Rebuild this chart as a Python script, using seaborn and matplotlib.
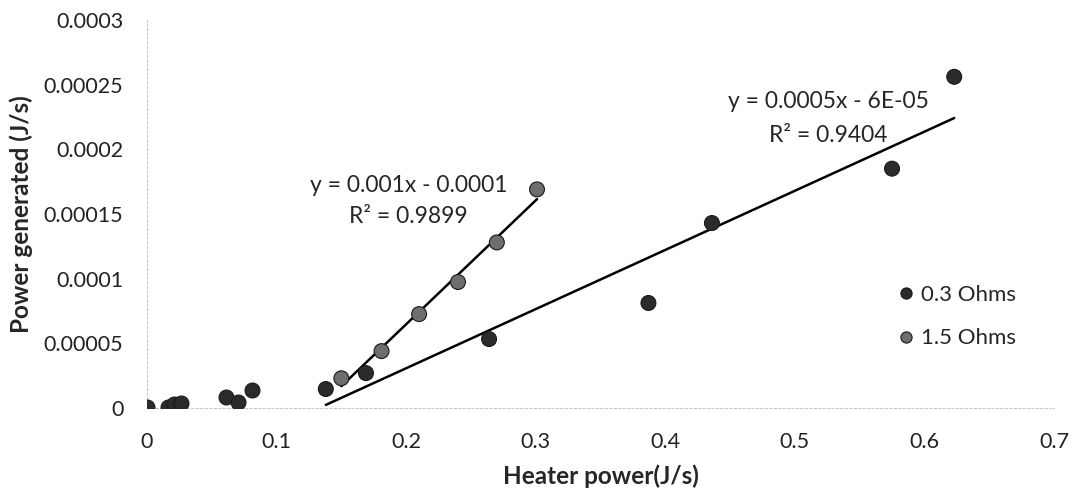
import numpy as np
import pandas as pd
import matplotlib
matplotlib.use("Agg")
import matplotlib.pyplot as plt
import seaborn as sns

# Measured heater power (J/s) and generated power (J/s)
heater_low = [0.0, 0.016, 0.021, 0.026, 0.061, 0.070, 0.081]
gen_low = [0.0000005, 0.0000010, 0.0000035, 0.0000040, 0.0000085, 0.0000046, 0.0000139]

heater_03 = [0.138, 0.169, 0.264, 0.387, 0.436, 0.575, 0.623]
gen_03 = [0.0000147, 0.0000270, 0.0000533, 0.0000812, 0.0001430, 0.0001850, 0.0002560]

heater_15 = [0.150, 0.181, 0.210, 0.240, 0.270, 0.301]
gen_15 = [0.0000230, 0.0000440, 0.0000726, 0.0000974, 0.0001280, 0.0001690]

series_names = ["0.3 Ohms", "1.5 Ohms"]
eq_03 = ["y = 0.0005x - 6E-05", "R² = 0.9404"]
eq_15 = ["y = 0.001x - 0.0001", "R² = 0.9899"]

x_ticks = [0, 0.1, 0.2, 0.3, 0.4, 0.5, 0.6, 0.7]
y_ticks = [0, 0.00005, 0.0001, 0.00015, 0.0002, 0.00025, 0.0003]
y_tick_labels = ["0", "0.00005", "0.0001", "0.00015", "0.0002", "0.00025", "0.0003"]

sns.set_theme(style="white")
plt.rcParams["font.family"] = ["Lato", "DejaVu Sans"]

fig = plt.figure(figsize=(10.81, 4.97), dpi=100)
ax = fig.add_axes([0.136, 0.179, 0.839, 0.781])

dark = "#2b2b2b"
grey = "#6e6e6e"

df = pd.DataFrame({
    "heater": heater_03 + heater_15,
    "gen": gen_03 + gen_15,
    "series": [series_names[0]] * len(heater_03) + [series_names[1]] * len(heater_15),
})
sns.scatterplot(data=df, x="heater", y="gen", hue="series",
                palette={series_names[0]: dark, series_names[1]: grey},
                s=115, edgecolor="#1a1a1a", linewidth=0.8, ax=ax, zorder=3)
sns.scatterplot(x=heater_low, y=gen_low, color=dark, s=115,
                edgecolor="#1a1a1a", linewidth=0.8, ax=ax, zorder=3, legend=False)

# Linear trend lines over each series' range
for hx, gy in [(heater_03, gen_03), (heater_15, gen_15)]:
    slope, intercept = np.polyfit(hx, gy, 1)
    xs = np.array([min(hx), max(hx)])
    ax.plot(xs, slope * xs + intercept, color="black", lw=1.8, zorder=2)

fs_eq = 16.5
ax.text(0.202, 0.000172, eq_15[0], ha="center", va="center", fontsize=fs_eq)
ax.text(0.202, 0.000148, eq_15[1], ha="center", va="center", fontsize=fs_eq)
ax.text(0.526, 0.000237, eq_03[0], ha="center", va="center", fontsize=fs_eq)
ax.text(0.526, 0.000211, eq_03[1], ha="center", va="center", fontsize=fs_eq)

ax.set_xlim(0, 0.7)
ax.set_ylim(0, 0.0003)
ax.set_xticks(x_ticks)
ax.set_xticklabels([f"{t:g}" for t in x_ticks])
ax.set_yticks(y_ticks)
ax.set_yticklabels(y_tick_labels)
ax.tick_params(axis="y", labelsize=15.5, colors="#222222", length=0, pad=17)
ax.tick_params(axis="x", labelsize=15.5, colors="#222222", length=0, pad=17)

for side in ["top", "right"]:
    ax.spines[side].set_visible(False)
for side in ["left", "bottom"]:
    ax.spines[side].set_color("#c8c8c8")
    ax.spines[side].set_linestyle((0, (2, 2)))
    ax.spines[side].set_linewidth(0.8)

ax.set_xlabel("Heater power(J/s)", fontsize=17.5, fontweight="bold", labelpad=9)
ax.set_ylabel("Power generated (J/s)", fontsize=17.5, fontweight="bold", labelpad=8)

leg = ax.legend(loc="center left", bbox_to_anchor=(0.79, 0.235), frameon=False,
                fontsize=16, handletextpad=-0.3, labelspacing=1.05, markerscale=0.75)

fig.savefig("out.png", dpi=100)
